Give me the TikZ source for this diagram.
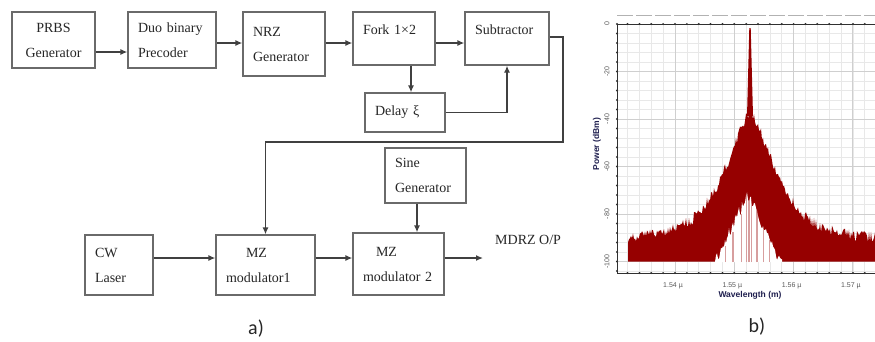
\documentclass[tikz,border=0pt]{standalone}
\usepackage{fontspec}
\setmainfont{Liberation Serif}
\newfontfamily\plotfont{Liberation Sans}
\newfontfamily\capfont{Carlito}
\usetikzlibrary{arrows.meta}
\definecolor{boxgray}{HTML}{6A6A6A}
\definecolor{txt}{HTML}{262626}
\definecolor{spec}{RGB}{150,0,0}
\definecolor{gridmaj}{HTML}{CFCFCF}
\definecolor{gridmin}{HTML}{E8E8E8}
\definecolor{axisc}{HTML}{303030}
\definecolor{navy}{HTML}{1F1F4F}
\begin{document}
\begin{tikzpicture}[x=1pt,y=-1pt,
  blk/.style={draw=boxgray, line width=1.3pt, text=txt, font=\fontsize{14}{25}\selectfont, align=left, inner xsep=10pt, inner ysep=0pt},
  arr/.style={draw=black!75, line width=1.3pt, -{Latex[length=7pt,width=6pt]}},
  ticklab/.style={font=\plotfont\fontsize{7}{7}\selectfont, text=black!65, inner sep=0pt},
  axtitle/.style={font=\plotfont\bfseries\fontsize{8.5}{9}\selectfont, text=navy, inner sep=0pt},
  caption/.style={font=\capfont\fontsize{20}{20}\selectfont, text=txt, inner sep=0pt}
]
\useasboundingbox[fill=white] (0,0) rectangle (875,341);

% ---------- block diagram ----------
\node[blk, align=center, minimum width=83pt, text width=63pt, minimum height=56pt] (prbs) at (53.5,40) {PRBS\\Generator};
\node[blk, minimum width=88pt, text width=68pt, minimum height=56pt] (duo) at (172,40) {Duo binary\\Precoder};
\node[blk, minimum width=82pt, text width=62pt, minimum height=64pt] (nrz) at (284,44) {NRZ\\Generator};
\node[blk, minimum width=82pt, text width=62pt, minimum height=53pt] (fork) at (394,38.5) {Fork 1×2\\[-8pt]\mbox{}};
\node[blk, minimum width=84pt, text width=64pt, minimum height=53pt] (sub) at (507,38.5) {Subtractor\\[-8pt]\mbox{}};
\node[blk, minimum width=80pt, text width=60pt, minimum height=39pt] (delay) at (405,112.5) {Delay ξ};
\node[blk, minimum width=81pt, text width=61pt, minimum height=55pt] (sine) at (425.5,175.5) {Sine\\Generator};
\node[blk, minimum width=68pt, text width=48pt, minimum height=60pt] (cw) at (119,265) {CW\\Laser};
\node[blk, minimum width=99pt, text width=79pt, minimum height=60pt] (mz1) at (265.5,265) {\hspace*{20pt}MZ\\modulator1};
\node[blk, minimum width=91pt, text width=71pt, minimum height=62pt] (mz2) at (398.5,264) {\hspace*{13pt}MZ\\modulator 2};
\node[anchor=west, inner sep=0pt, text=txt, font=\fontsize{14}{14}\selectfont] (mdrz) at (495,240) {MDRZ O/P};

\coordinate (fx) at (411,0);
\coordinate (sx) at (417,0);
\coordinate (turn) at (563,142);
\coordinate (out) at (483,258);

\draw[arr] ([yshift=-12pt]prbs.east) -- ([yshift=-12pt]duo.west);
\draw[arr] ([yshift=-3pt]duo.east) -- ([yshift=-3pt]duo.east -| nrz.west);
\draw[arr] ([yshift=-4.5pt]fork.west -| nrz.east) -- ([yshift=-4.5pt]fork.west);
\draw[arr] ([yshift=-4.5pt]fork.east) -- ([yshift=-4.5pt]sub.west);
\draw[arr] (fork.south -| fx) -- (delay.north -| fx);
\draw[arr] (delay.east) -| (sub.south);
\draw[arr] ([yshift=1.5pt]sub.east) -| (turn) -| (mz1.north);
\draw[arr] (sine.south -| sx) -- (mz2.north -| sx);
\draw[arr] ([yshift=7pt]cw.east) -- ([yshift=7pt]mz1.west);
\draw[arr] ([yshift=7pt]mz1.east) -- ([yshift=7pt]mz1.east -| mz2.west);
\draw[arr] ([yshift=6pt]mz2.east) -- (out);

\node[caption] (capa) at (256,329) {a)};

% ---------- spectrum plot ----------
\foreach \k in {-4,...,16} \draw[gridmin, line width=0.7pt] ({675+\k*11.86},24) -- ({675+\k*11.86},273);
\foreach \j in {1,...,26} \draw[gridmin, line width=0.7pt] (617,{24+\j*9.5}) -- (875,{24+\j*9.5});
\foreach \k in {0,1,2,3} \draw[gridmaj, line width=0.9pt] ({675+\k*59.3},24) -- ({675+\k*59.3},273);
\foreach \j in {1,...,5} \draw[gridmaj, line width=0.9pt] (617,{24+\j*47.5}) -- (875,{24+\j*47.5});
\draw[black!30, line width=1pt, dash pattern=on 16pt off 3pt] (617,15) -- (875,15);

\pgfmathsetseed{11}
\fill[spec] (628,261.5) \foreach \x in {628,629,...,875} { -- (\x,{min(261.5, 113+100*(1-exp(-((abs(\x-750)+0.01)/33)^1.5)) + 32*(1-exp(-abs(\x-750)/80)) + 11*rnd - 6)}) } -- (875,261.5) -- cycle;
\fill[spec] (747,116) -- (749.3,28) -- (750.7,28) -- (753,116) -- cycle;
\fill[white] (712,262) \foreach \x in {712,713,...,782} { -- (\x,{min(262, 194+2.1*abs(\x-748)+12*rnd-6)}) } -- (782,262) -- cycle;
\foreach \x/\t/\w in {749/152/1.4,751.5/172/1,746/190/1,757/208/1.2,741/214/1,763/228/1,733/232/1.2,769/240/1,725/246/1}
  \draw[spec, opacity=0.38, line width=\w pt] (\x,262) -- (\x,\t);

\draw[axisc, line width=1pt] (617,24) -- (875,24);
\draw[axisc, line width=1pt] (617,24) -- (617,273) -- (875,273);
\foreach \j in {0,...,26} \fill[axisc] (617,{24+\j*9.5}) circle (1.1pt);
\foreach \k in {-4,...,16} {\fill[axisc] ({675+\k*11.86},24) circle (1.1pt); \fill[axisc] ({675+\k*11.86},273) circle (1.1pt);}

\foreach \v/\j in {0/0,-20/1,-40/2,-60/3,-80/4,-100/5}
  \node[ticklab, rotate=90] (yl\j) at (607,{24+\j*47.5}) {\v};
\foreach \l/\k in {1.54/0,1.55/1,1.56/2,1.57/3}
  \node[ticklab] (xl\k) at ({673+\k*59.3},286) {\l{} µ};
\node[axtitle, rotate=90] (ytitle) at (597,144) {Power (dBm)};
\node[axtitle] (xtitle) at (750,295) {Wavelength (m)};

\node[caption] (capb) at (757,327) {b)};
\end{tikzpicture}
\end{document}
